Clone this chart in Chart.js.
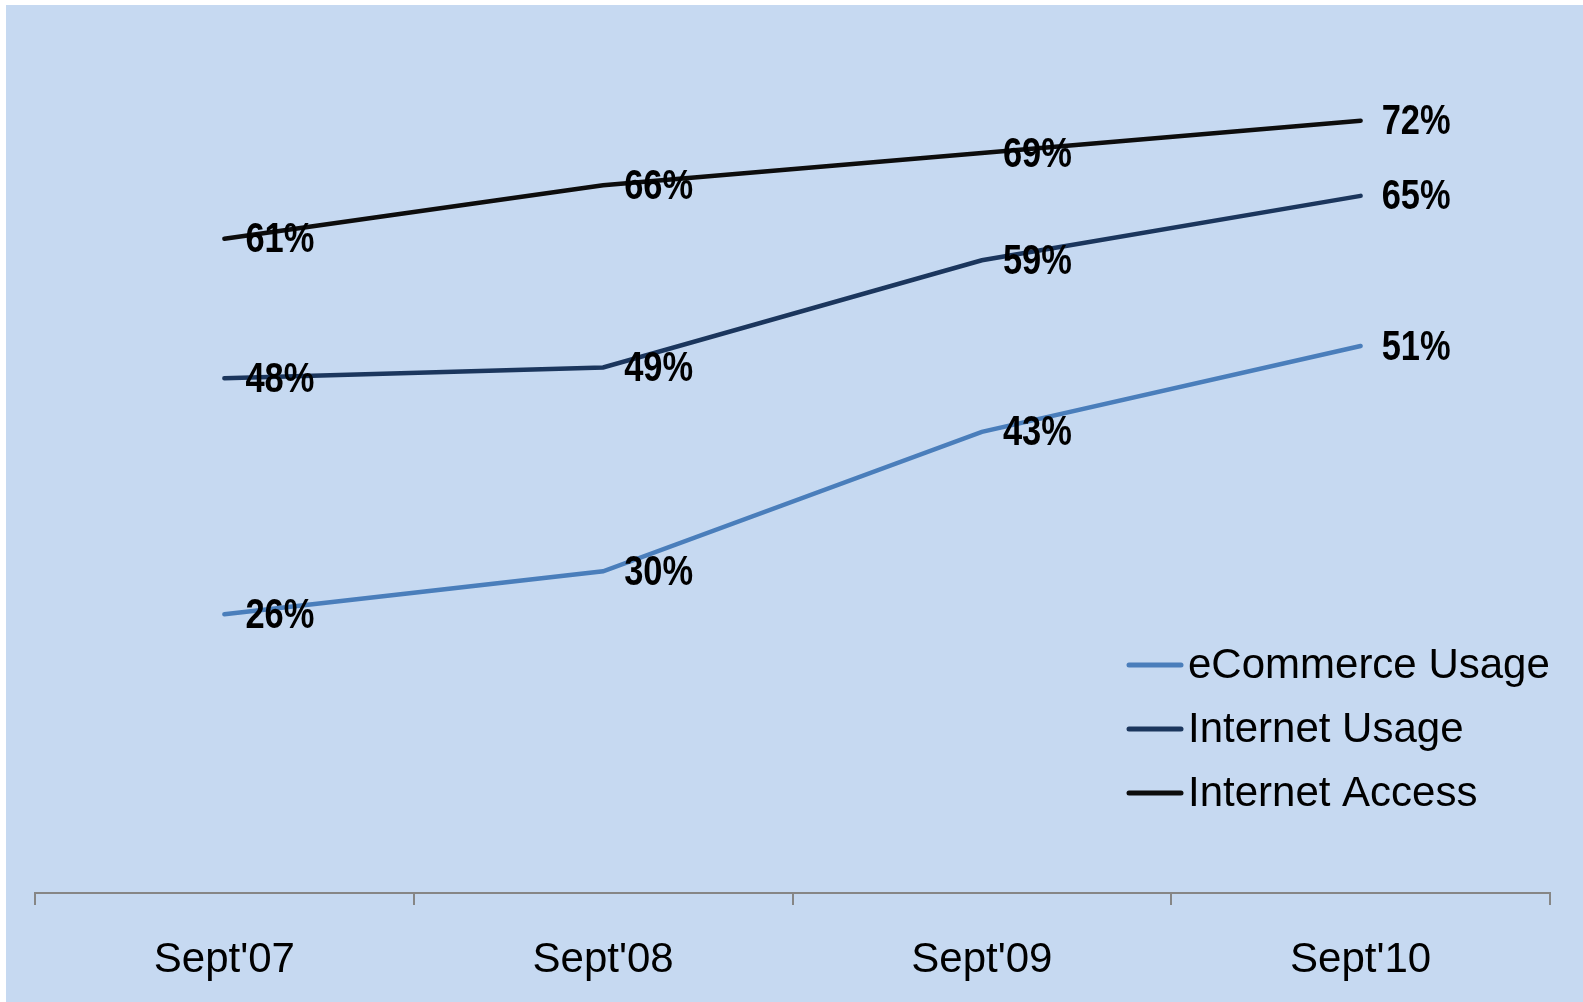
<!DOCTYPE html>
<html>
<head>
<meta charset="utf-8">
<script src="https://cdn.jsdelivr.net/npm/chart.js@4/dist/chart.umd.min.js"></script>
<style>
  html, body { margin: 0; padding: 0; background: #ffffff; }
  #wrap { position: absolute; left: 6px; top: 5px; width: 1577px; height: 997px; background: #c6d9f1; }
</style>
</head>
<body>
<div id="wrap"><canvas id="myChart" width="1577" height="997"></canvas></div>
<script>
const labels = ["Sept'07", "Sept'08", "Sept'09", "Sept'10"];

const ecommerceUsage = [26, 30, 43, 51];
const internetUsage = [48, 49, 59, 65];
const internetAccess = [61, 66, 69, 72];

const seriesNames = ['eCommerce Usage', 'Internet Usage', 'Internet Access'];
const seriesColors = ['#4a7ebb', '#1b365d', '#0d0d0d'];

// pick a narrow bold font for the value labels, squeeze if none is installed
const probe = document.createElement('canvas').getContext('2d');
probe.font = "bold 40px 'Liberation Sans Narrow', monospace";
const wNarrow = probe.measureText('72%').width;
probe.font = "bold 40px monospace";
const wMono = probe.measureText('72%').width;
const hasNarrow = Math.abs(wNarrow - wMono) > 0.5;

const valueLabels = {
  id: 'valueLabels',
  afterDatasetsDraw(chart) {
    const ctx = chart.ctx;
    ctx.save();
    ctx.fillStyle = '#000';
    ctx.textAlign = 'left';
    ctx.textBaseline = 'middle';
    chart.data.datasets.forEach((ds, i) => {
      chart.getDatasetMeta(i).data.forEach((pt, j) => {
        const txt = ds.data[j] + '%';
        ctx.save();
        ctx.translate(pt.x + 21, pt.y + 2);
        if (hasNarrow) {
          ctx.font = "bold 42px 'Liberation Sans Narrow'";
        } else {
          ctx.font = "bold 42px 'Liberation Sans'";
          ctx.scale(0.82, 1);
        }
        ctx.fillText(txt, 0, 0);
        ctx.restore();
      });
    });
    ctx.restore();
  }
};

const sideLegend = {
  id: 'sideLegend',
  afterDraw(chart) {
    const ctx = chart.ctx;
    ctx.save();
    ctx.font = "42px 'Liberation Sans'";
    ctx.textBaseline = 'middle';
    ctx.textAlign = 'left';
    seriesNames.forEach((name, i) => {
      const y = 660 + i * 64;
      ctx.strokeStyle = seriesColors[i];
      ctx.lineWidth = 5;
      ctx.lineCap = 'round';
      ctx.beginPath();
      ctx.moveTo(1123, y);
      ctx.lineTo(1175, y);
      ctx.stroke();
      ctx.fillStyle = '#000';
      ctx.fillText(name, 1182, y + 1);
    });
    ctx.restore();
  }
};

const data = {
  labels: labels,
  datasets: [ecommerceUsage, internetUsage, internetAccess].map((vals, i) => ({
    label: seriesNames[i],
    data: vals,
    borderColor: seriesColors[i],
    borderWidth: 4.5,
    pointRadius: 0,
    fill: false,
    tension: 0,
    borderCapStyle: 'round'
  }))
};

const config = {
  type: 'line',
  data: data,
  options: {
    responsive: false,
    animation: false,
    layout: { padding: { left: 29, right: 33, top: 30, bottom: 0 } },
    plugins: {
      legend: { display: false },
      tooltip: { enabled: false }
    },
    scales: {
      x: {
        offset: true,
        afterFit(scale) { scale.height = 109; },
        grid: {
          offset: true,
          drawOnChartArea: false,
          drawTicks: true,
          tickLength: 12,
          color: '#868686',
          lineWidth: 2
        },
        border: { display: true, color: '#868686', width: 2 },
        ticks: {
          color: '#000',
          font: { family: "'Liberation Sans'", size: 42 },
          padding: 30,
          maxRotation: 0
        }
      },
      y: {
        display: false,
        min: 0,
        max: 80
      }
    }
  },
  plugins: [valueLabels, sideLegend]
};

const myChart = new Chart(document.getElementById('myChart'), config);
</script>
</body>
</html>
